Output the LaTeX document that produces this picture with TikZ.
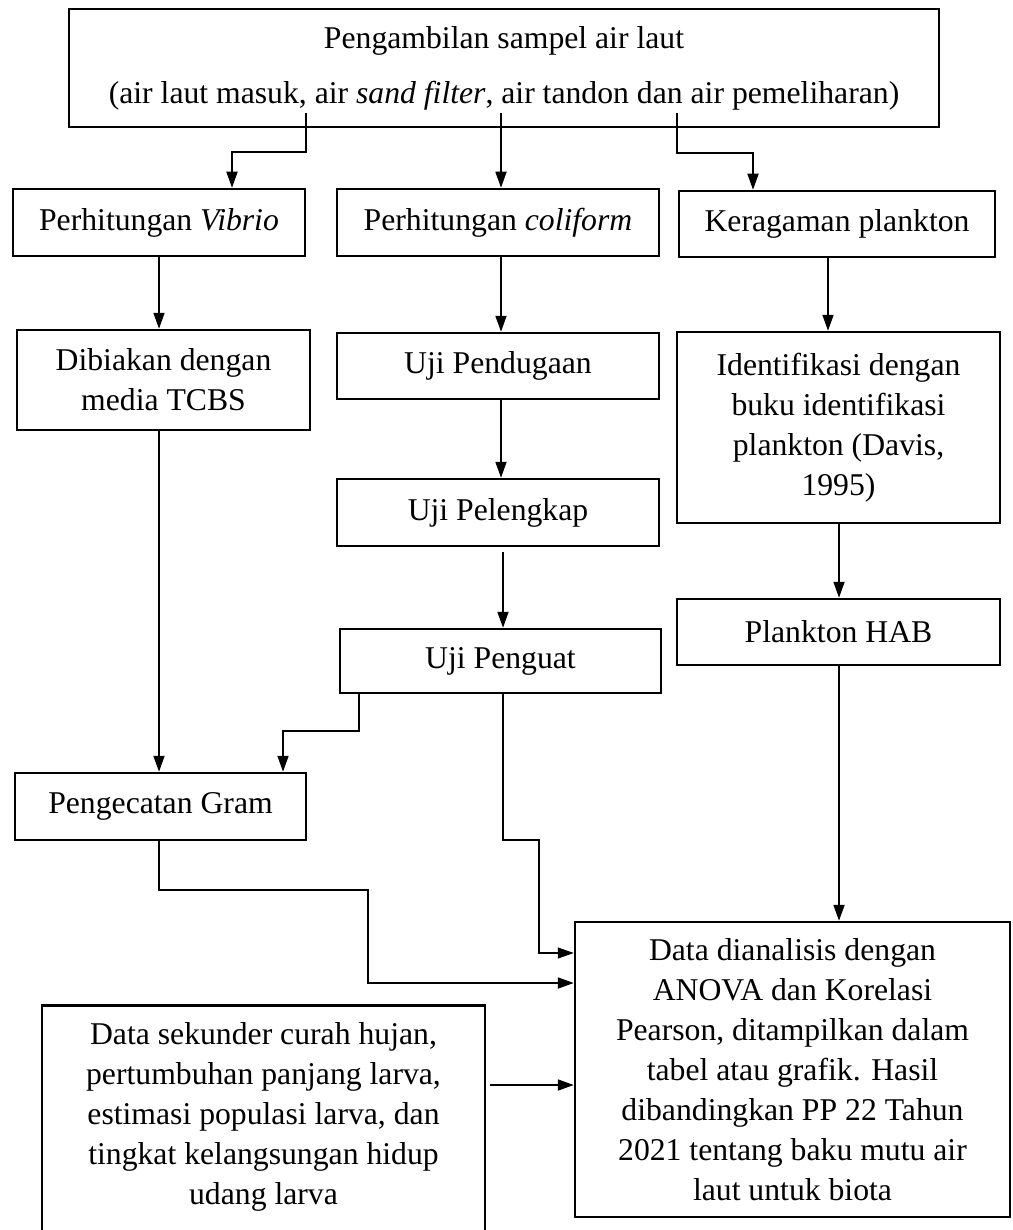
\documentclass[tikz,border=0pt]{standalone}
\usepackage{fontspec}
\setmainfont{Liberation Serif}
\usetikzlibrary{arrows.meta}
\begin{document}
\begin{tikzpicture}[x=1pt,y=-1pt,
  box/.style={draw, line width=2.5pt, inner sep=0pt, align=center, font=\fontsize{31.7}{40}\selectfont},
  txt/.style={inner sep=0pt, align=center, font=\fontsize{31.7}{40}\selectfont},
  arr/.style={line width=1.8pt, -{Triangle[length=16pt,width=11pt]}},
  thinarr/.style={line width=1.1pt, -{Triangle[length=16pt,width=11pt]}}]
\useasboundingbox[fill=white] (0,0) rectangle (1012,1230);

\node[box, minimum width=870pt, minimum height=118pt] (top) at (504,68)
  {Pengambilan sampel air laut\\[15pt](air laut masuk, air \textit{sand filter}, air tandon dan air pemeliharan)};
\node[box, minimum width=292pt, minimum height=67pt] (vib) at (159,222.5) {Perhitungan \textit{Vibrio}};
\node[box, minimum width=322pt, minimum height=67pt] (col) at (498,222.5) {Perhitungan \textit{coliform}};
\node[box, minimum width=316pt, minimum height=66pt] (ker) at (837,224) {Keragaman plankton};
\node[box, minimum width=293pt, minimum height=100pt] (dib) at (163.5,380) {Dibiakan dengan\\media TCBS};
\node[box, minimum width=322pt, minimum height=66pt] (pend) at (498,366) {Uji Pendugaan};
\node[box, minimum width=323pt, minimum height=191pt] (ident) at (838.5,427.5)
  {Identifikasi dengan\\buku identifikasi\\plankton (Davis,\\1995)};
\node[box, minimum width=322pt, minimum height=67pt] (pel) at (498,512.5) {Uji Pelengkap};
\node[box, minimum width=321pt, minimum height=64pt] (peng) at (500.5,661) {Uji Penguat};
\node[box, minimum width=323pt, minimum height=66pt] (hab) at (838.5,632) {Plankton HAB};
\node[box, minimum width=291pt, minimum height=67pt] (gram) at (160.5,806.5) {Pengecatan Gram};
\node[box, minimum width=435pt, minimum height=295pt] (data) at (792.5,1069.5)
  {Data dianalisis dengan\\ANOVA dan Korelasi\\Pearson, ditampilkan dalam\\tabel atau grafik. Hasil\\dibandingkan PP 22 Tahun\\2021 tentang baku mutu air\\laut untuk biota};
\node[box, minimum width=443pt, minimum height=260pt, anchor=north] (sek) at (263.5,1004) {};
\node[txt] (sektext) at (263.5,1116.5)
  {Data sekunder curah hujan,\\pertumbuhan panjang larva,\\estimasi populasi larva, dan\\tingkat kelangsungan hidup\\udang larva};

% top -> row 2
\coordinate (t1) at (306,113); \coordinate (t1b) at (232,152);
\draw[arr] (t1) |- (t1b) -- (t1b |- vib.north);
\coordinate (t2) at (501,113);
\draw[arr] (t2) -- (t2 |- col.north);
\coordinate (t3) at (677,113); \coordinate (t3b) at (753,153);
\draw[arr] (t3) |- (t3b) -- (t3b |- ker.north);

% row 2 -> row 3
\coordinate (v1) at (159,0);
\draw[arr] (v1 |- vib.south) -- (v1 |- dib.north);
\coordinate (c1) at (501,0);
\draw[arr] (c1 |- col.south) -- (c1 |- pend.north);
\coordinate (k1) at (828,0);
\draw[arr] (k1 |- ker.south) -- (k1 |- ident.north);

% coliform chain
\draw[arr] (c1 |- pend.south) -- (c1 |- pel.north);
\coordinate (pl) at (503,552);
\draw[arr] (pl) -- (pl |- peng.north);

% plankton chain
\coordinate (h1) at (839,0);
\draw[arr] (h1 |- ident.south) -- (h1 |- hab.north);

% vibrio chain
\draw[arr] (v1 |- dib.south) -- (v1 |- gram.north);

% penguat -> gram
\coordinate (p1) at (359,693); \coordinate (p1b) at (283,731);
\draw[arr] (p1) |- (p1b) -- (p1b |- gram.north);

% penguat -> data
\coordinate (p2) at (503,693); \coordinate (p2b) at (539,840); \coordinate (p2c) at (0,953);
\draw[thinarr] (p2) |- (p2b) |- (data.west |- p2c);

% gram -> data
\coordinate (g1) at (368,890); \coordinate (g2) at (0,983);
\draw[arr] (v1 |- gram.south) |- (g1) |- (data.west |- g2);

% HAB -> data
\draw[arr] (h1 |- hab.south) -- (h1 |- data.north);

% sekunder -> data
\coordinate (s1) at (490,1085);
\draw[arr] (s1) -- (data.west |- s1);
\end{tikzpicture}
\end{document}
